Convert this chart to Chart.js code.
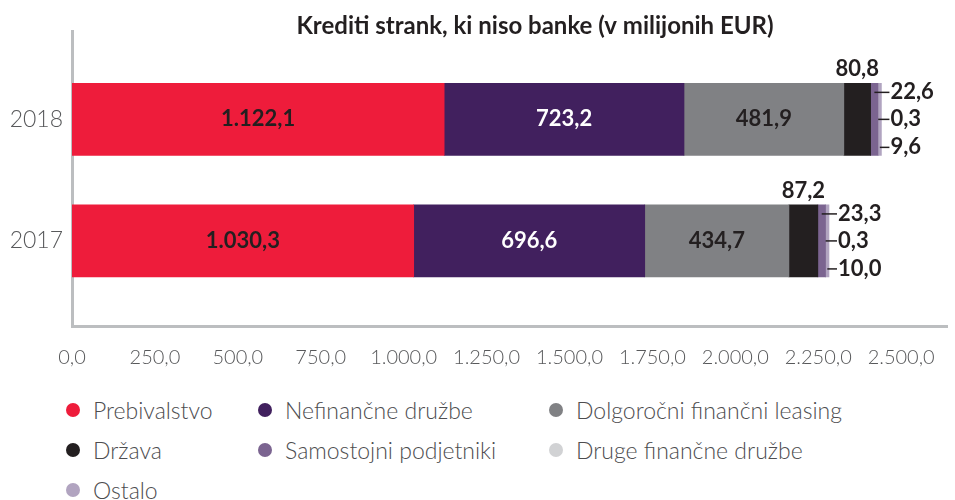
<!DOCTYPE html>
<html>
<head>
<meta charset="utf-8">
<script src="https://cdn.jsdelivr.net/npm/chart.js@4"></script>
<style>
  body { margin: 0; background: #fff; font-family: Lato, sans-serif; }
  #wrap { position: relative; width: 955px; height: 390px; }
  #legend {
    display: grid;
    grid-template-columns: 192px 291px auto;
    grid-auto-rows: 40px;
    margin-left: 66px;
    width: 880px;
  }
  #legend div { display: flex; align-items: center; font-size: 23px; font-weight: 300; color: #4d4d4f; }
  #legend span { width: 14px; height: 14px; border-radius: 50%; margin-right: 13px; flex: none; }
</style>
</head>
<body>
<div id="wrap"><canvas id="krediti"></canvas></div>
<div id="legend"></div>
<script>
// data
const years = ["2018", "2017"];
const seriesNames = ["Prebivalstvo", "Nefinančne družbe", "Dolgoročni finančni leasing", "Država",
  "Samostojni podjetniki", "Druge finančne družbe", "Ostalo"];
const prebivalstvo = [1122.1, 1030.3];
const nefinancne = [723.2, 696.6];
const leasing = [481.9, 434.7];
const drzava = [80.8, 87.2];
const samostojni = [22.6, 23.3];
const drugeFinancne = [0.3, 0.3];
const ostalo = [9.6, 10.0];
const xTickValues = [0, 250, 500, 750, 1000, 1250, 1500, 1750, 2000, 2250, 2500];

// styles per series (colour, label colour, where the value label goes)
const seriesStyle = [
  { color: "#ee1c3b", text: "#231f20", pos: "inside" },
  { color: "#41205e", text: "#ffffff", pos: "inside" },
  { color: "#808184", text: "#231f20", pos: "inside" },
  { color: "#231f20", text: "#231f20", pos: "above" },
  { color: "#7b6490", text: "#231f20", pos: "top" },
  { color: "#d1d2d4", text: "#231f20", pos: "middle" },
  { color: "#b1a4c0", text: "#231f20", pos: "bottom" }
];

const allValues = [prebivalstvo, nefinancne, leasing, drzava, samostojni, drugeFinancne, ostalo];

const fmt = v => {
  const parts = v.toFixed(1).split(".");
  return parts[0].replace(/\B(?=(\d{3})+(?!\d))/g, ".") + "," + parts[1];
};

const axisColor = "#bcbec0";
const tickColor = "#58595b";

const titlePlugin = {
  id: "titleText",
  afterDraw(chart) {
    const ctx = chart.ctx;
    ctx.save();
    ctx.font = "bold 24px Lato";
    ctx.fillStyle = "#231f20";
    ctx.textAlign = "center";
    ctx.textBaseline = "middle";
    ctx.fillText("Krediti strank, ki niso banke (v milijonih EUR)", 535, 26);
    ctx.restore();
  }
};

const valueLabels = {
  id: "valueLabels",
  afterDatasetsDraw(chart) {
    const ctx = chart.ctx;
    ctx.save();
    ctx.font = "bold 22px Lato";
    years.forEach((yr, j) => {
      let end = 0;
      chart.data.datasets.forEach((ds, i) => {
        end = Math.max(end, chart.getDatasetMeta(i).data[j].x);
      });
      chart.data.datasets.forEach((ds, i) => {
        const bar = chart.getDatasetMeta(i).data[j];
        const st = seriesStyle[i];
        const text = fmt(ds.data[j]);
        const top = bar.y - bar.height / 2;
        const bottom = bar.y + bar.height / 2;
        const mid = (bar.x + bar.base) / 2;
        ctx.fillStyle = st.text;
        if (st.pos == "inside") {
          ctx.textAlign = "center";
          ctx.textBaseline = "middle";
          ctx.fillText(text, mid, bar.y);
        } else if (st.pos == "above") {
          ctx.textAlign = "center";
          ctx.textBaseline = "bottom";
          ctx.fillText(text, mid, top - 3);
        } else {
          let y = bar.y;
          if (st.pos == "top") y = top + 9;
          if (st.pos == "bottom") y = bottom - 8;
          ctx.strokeStyle = "#231f20";
          ctx.lineWidth = 1.5;
          ctx.beginPath();
          ctx.moveTo(mid, y);
          ctx.lineTo(end + 8, y);
          ctx.stroke();
          ctx.textAlign = "left";
          ctx.textBaseline = "middle";
          ctx.fillText(text, end + 9, y);
        }
      });
    });
    ctx.restore();
  }
};

const drawChart = () => {
  const ctx = document.getElementById("krediti").getContext("2d");
  const chart = new Chart(ctx, {
    type: "bar",
    data: {
      labels: years,
      datasets: seriesNames.map((name, i) => ({
        label: name,
        data: allValues[i],
        backgroundColor: seriesStyle[i].color,
        borderWidth: 0,
        barThickness: 72
      }))
    },
    options: {
      indexAxis: "y",
      responsive: true,
      maintainAspectRatio: false,
      animation: false,
      layout: { padding: { top: 31, right: 6, left: 0, bottom: 0 } },
      plugins: {
        legend: { display: false },
        title: { display: false },
        tooltip: { enabled: false }
      },
      scales: {
        x: {
          stacked: true,
          min: 0,
          max: 2640,
          border: { color: axisColor, width: 3 },
          grid: { display: false, drawTicks: false },
          ticks: {
            padding: 20,
            color: tickColor,
            font: { family: "Lato", size: 20, weight: 300 },
            maxRotation: 0,
            autoSkip: false,
            callback: v => fmt(v)
          },
          afterBuildTicks: s => { s.ticks = xTickValues.map(v => ({ value: v })); },
          afterFit: s => { s.height = 64; }
        },
        y: {
          type: "linear",
          stacked: true,
          offset: false,
          bounds: "data",
          grace: 0,
          min: 2016.3,
          max: 2018.727,
          border: { color: axisColor, width: 3 },
          grid: { display: false, drawTicks: false, offset: false },
          ticks: {
            padding: 9,
            color: tickColor,
            font: { family: "Lato", size: 23, weight: 300 },
            callback: v => String(v)
          },
          afterBuildTicks: s => { s.ticks = years.map(v => ({ value: +v })); },
          afterFit: s => { s.width = 72; }
        }
      }
    },
    plugins: [titlePlugin, valueLabels]
  });
  return chart;
};

drawChart();

// legend below the chart
const legend = document.getElementById("legend");
seriesNames.forEach((name, i) => {
  const item = document.createElement("div");
  const dot = document.createElement("span");
  dot.style.background = seriesStyle[i].color;
  item.appendChild(dot);
  item.appendChild(document.createTextNode(name));
  legend.appendChild(item);
});
</script>
</body>
</html>
